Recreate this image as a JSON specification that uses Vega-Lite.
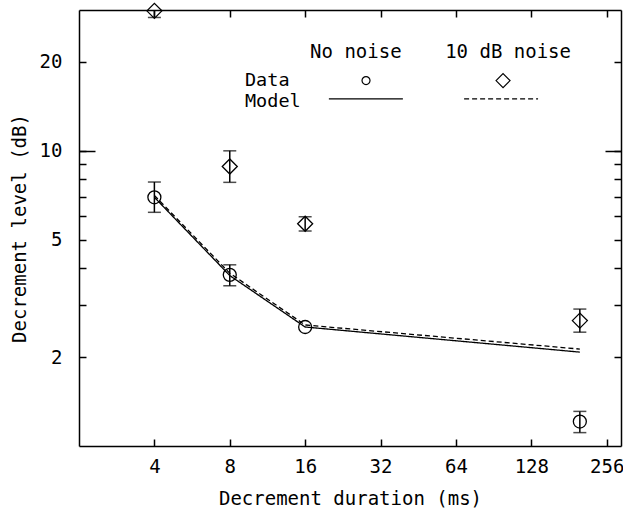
{
  "$schema": "https://vega.github.io/schema/vega-lite/v6.json",
  "width": 542,
  "height": 436,
  "autosize": {"type": "none"},
  "padding": {"left": 79, "top": 10, "right": 2, "bottom": 68},
  "background": "white",
  "config": {
    "view": {"stroke": null},
    "axis": {
      "grid": false,
      "domainColor": "black",
      "domainWidth": 1.5,
      "tickColor": "black",
      "tickWidth": 1.5,
      "labelColor": "black",
      "titleColor": "black",
      "labelFont": "DejaVu Sans Mono",
      "titleFont": "DejaVu Sans Mono",
      "labelFontSize": 19,
      "titleFontSize": 19,
      "titleFontWeight": "normal",
      "labelFlush": false,
      "labelOverlap": false
    }
  },
  "datasets": {
    "obs": [
      {"duration": 4, "level": 6.96, "lo": 6.19, "hi": 7.84, "condition": "No noise"},
      {"duration": 8, "level": 3.8, "lo": 3.49, "hi": 4.11, "condition": "No noise"},
      {"duration": 16, "level": 2.53, "lo": null, "hi": null, "condition": "No noise"},
      {"duration": 200, "level": 1.21, "lo": 1.11, "hi": 1.31, "condition": "No noise"},
      {"duration": 4, "level": 29.8, "lo": 28.3, "hi": 30.9, "condition": "10 dB noise"},
      {"duration": 8, "level": 8.85, "lo": 7.82, "hi": 10.0, "condition": "10 dB noise"},
      {"duration": 16, "level": 5.66, "lo": 5.35, "hi": 5.98, "condition": "10 dB noise"},
      {"duration": 200, "level": 2.66, "lo": 2.43, "hi": 2.91, "condition": "10 dB noise"}
    ],
    "model": [
      {"duration": 4, "level": 6.96, "condition": "No noise"},
      {"duration": 8, "level": 3.78, "condition": "No noise"},
      {"duration": 16, "level": 2.53, "condition": "No noise"},
      {"duration": 200, "level": 2.08, "condition": "No noise"},
      {"duration": 4, "level": 7.06, "condition": "10 dB noise"},
      {"duration": 8, "level": 3.85, "condition": "10 dB noise"},
      {"duration": 16, "level": 2.57, "condition": "10 dB noise"},
      {"duration": 200, "level": 2.13, "condition": "10 dB noise"}
    ],
    "anchor": [{}]
  },
  "resolve": {"axis": {"x": "independent", "y": "independent"}},
  "layer": [
    {
      "data": {"name": "model"},
      "mark": {"type": "line", "color": "black", "strokeWidth": 1.3},
      "encoding": {
        "x": {"field": "duration", "type": "quantitative",
          "scale": {"type": "log", "domain": [2, 292]},
          "axis": {"orient": "bottom", "values": [4, 8, 16, 32, 64, 128, 256], "format": "d",
            "tickSize": -7, "labelPadding": 18, "title": "Decrement duration (ms)", "titlePadding": 13}},
        "y": {"field": "level", "type": "quantitative",
          "scale": {"type": "log", "domain": [1, 30]},
          "axis": {"orient": "left", "values": [2, 3, 4, 5, 6, 7, 8, 9, 10, 20], "format": "d",
            "labelExpr": "indexof([2, 5, 10, 20], datum.value) >= 0 ? datum.label : ''",
            "tickSize": -7, "labelPadding": 24, "title": "Decrement level (dB)", "titlePadding": 10}},
        "strokeDash": {"field": "condition", "type": "nominal", "legend": null,
          "scale": {"domain": ["No noise", "10 dB noise"], "range": [[1, 0], [5, 3]]}},
        "detail": {"field": "condition"}
      }
    },
    {
      "data": {"name": "obs"},
      "mark": {"type": "rule", "color": "black", "strokeWidth": 1.5, "clip": true},
      "encoding": {
        "x": {"field": "duration", "type": "quantitative",
          "scale": {"type": "log", "domain": [2, 292]},
          "axis": {"orient": "top", "values": [4, 8, 16, 32, 64, 128, 256], "tickSize": -7, "labels": false, "title": null}},
        "y": {"field": "lo", "type": "quantitative",
          "scale": {"type": "log", "domain": [1, 30]},
          "axis": {"orient": "right", "values": [2, 3, 4, 5, 6, 7, 8, 9, 10, 20], "tickSize": -7, "labels": false, "title": null}},
        "y2": {"field": "hi"}
      }
    },
    {
      "data": {"name": "obs"},
      "transform": [{"fold": ["lo", "hi"], "as": ["end", "bound"]}],
      "mark": {"type": "tick", "orient": "horizontal", "color": "black", "size": 13, "thickness": 1.5, "clip": true},
      "encoding": {
        "x": {"field": "duration", "type": "quantitative",
          "scale": {"type": "log", "domain": [2, 292]}, "axis": null},
        "y": {"field": "bound", "type": "quantitative",
          "scale": {"type": "log", "domain": [1, 30]},
          "axis": {"orient": "left", "values": [10], "tickSize": -16, "labels": false, "domain": false, "title": null}}
      }
    },
    {
      "data": {"name": "obs"},
      "mark": {"type": "point", "filled": false, "color": "black", "strokeWidth": 1.3, "opacity": 1},
      "encoding": {
        "x": {"field": "duration", "type": "quantitative",
          "scale": {"type": "log", "domain": [2, 292]}, "axis": null},
        "y": {"field": "level", "type": "quantitative",
          "scale": {"type": "log", "domain": [1, 30]},
          "axis": {"orient": "right", "values": [10], "tickSize": -16, "labels": false, "domain": false, "title": null}},
        "shape": {"field": "condition", "type": "nominal", "legend": null,
          "scale": {"domain": ["No noise", "10 dB noise"], "range": ["circle", "diamond"]}},
        "size": {"field": "condition", "type": "nominal", "legend": null,
          "scale": {"domain": ["No noise", "10 dB noise"], "range": [169, 225]}}
      }
    },
    {
      "data": {"name": "anchor"},
      "mark": {"type": "text", "text": "No noise", "font": "DejaVu Sans Mono", "fontSize": 19, "align": "center", "baseline": "middle", "color": "black"},
      "encoding": {
        "x": {"datum": 25.5, "type": "quantitative", "scale": {"type": "log", "domain": [2, 292]}, "axis": null},
        "y": {"datum": 21.6, "type": "quantitative", "scale": {"type": "log", "domain": [1, 30]}, "axis": null}
      }
    },
    {
      "data": {"name": "anchor"},
      "mark": {"type": "text", "text": "10 dB noise", "font": "DejaVu Sans Mono", "fontSize": 19, "align": "center", "baseline": "middle", "color": "black"},
      "encoding": {
        "x": {"datum": 103.4, "type": "quantitative", "scale": {"type": "log", "domain": [2, 292]}, "axis": null},
        "y": {"datum": 21.6, "type": "quantitative", "scale": {"type": "log", "domain": [1, 30]}, "axis": null}
      }
    },
    {
      "data": {"name": "anchor"},
      "mark": {"type": "text", "text": "Data", "font": "DejaVu Sans Mono", "fontSize": 18.5, "align": "left", "baseline": "middle", "color": "black"},
      "encoding": {
        "x": {"datum": 9.2, "type": "quantitative", "scale": {"type": "log", "domain": [2, 292]}, "axis": null},
        "y": {"datum": 17.4, "type": "quantitative", "scale": {"type": "log", "domain": [1, 30]}, "axis": null}
      }
    },
    {
      "data": {"name": "anchor"},
      "mark": {"type": "text", "text": "Model", "font": "DejaVu Sans Mono", "fontSize": 18.5, "align": "left", "baseline": "middle", "color": "black"},
      "encoding": {
        "x": {"datum": 9.2, "type": "quantitative", "scale": {"type": "log", "domain": [2, 292]}, "axis": null},
        "y": {"datum": 14.8, "type": "quantitative", "scale": {"type": "log", "domain": [1, 30]}, "axis": null}
      }
    },
    {
      "data": {"name": "anchor"},
      "mark": {"type": "point", "shape": "circle", "size": 64, "filled": false, "color": "black", "strokeWidth": 1.2, "opacity": 1},
      "encoding": {
        "x": {"datum": 28.0, "type": "quantitative", "scale": {"type": "log", "domain": [2, 292]}, "axis": null},
        "y": {"datum": 17.3, "type": "quantitative", "scale": {"type": "log", "domain": [1, 30]}, "axis": null}
      }
    },
    {
      "data": {"name": "anchor"},
      "mark": {"type": "point", "shape": "diamond", "size": 196, "filled": false, "color": "black", "strokeWidth": 1.2, "opacity": 1},
      "encoding": {
        "x": {"datum": 98.7, "type": "quantitative", "scale": {"type": "log", "domain": [2, 292]}, "axis": null},
        "y": {"datum": 17.3, "type": "quantitative", "scale": {"type": "log", "domain": [1, 30]}, "axis": null}
      }
    },
    {
      "data": {"name": "anchor"},
      "mark": {"type": "rule", "color": "black", "strokeWidth": 1.3},
      "encoding": {
        "x": {"datum": 19.9, "type": "quantitative", "scale": {"type": "log", "domain": [2, 292]}, "axis": null},
        "x2": {"datum": 39.3},
        "y": {"datum": 15.0, "type": "quantitative", "scale": {"type": "log", "domain": [1, 30]}, "axis": null}
      }
    },
    {
      "data": {"name": "anchor"},
      "mark": {"type": "rule", "color": "black", "strokeWidth": 1.3, "strokeDash": [5, 3]},
      "encoding": {
        "x": {"datum": 69.0, "type": "quantitative", "scale": {"type": "log", "domain": [2, 292]}, "axis": null},
        "x2": {"datum": 136.2},
        "y": {"datum": 15.0, "type": "quantitative", "scale": {"type": "log", "domain": [1, 30]}, "axis": null}
      }
    }
  ]
}
